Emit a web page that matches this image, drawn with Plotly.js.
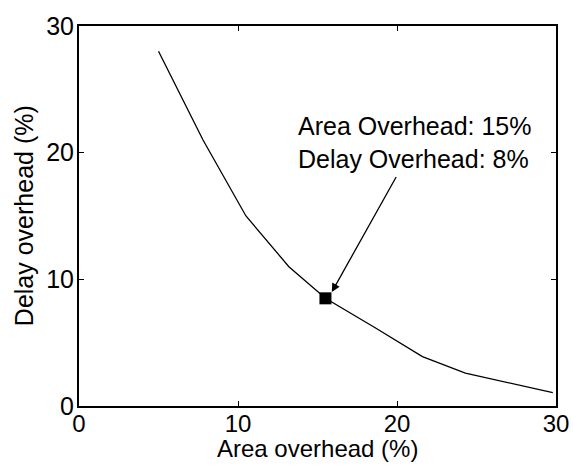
<!DOCTYPE html>
<html><head><meta charset="utf-8">
<script src="https://cdn.plot.ly/plotly-3.0.1.min.js"></script>
<style>body{margin:0;background:#fff}</style>
</head><body>
<div id="chart" style="width:573px;height:465px"></div>
<script>
const areaOverhead = [5, 7.8, 10.5, 13.2, 15.5, 18.6, 21.6, 24.3, 29.8];
const delayOverhead = [28, 21, 15, 11, 8.5, 6.2, 3.9, 2.6, 1.05];
const markX = [15.5];
const markY = [8.5];
const tickVals = [0, 10, 20, 30];
const noteLines = ["Area Overhead: 15%", "Delay Overhead: 8%"];
const xTitle = "Area overhead (%)";
const yTitle = "Delay overhead (%)";

const font = {family: "Liberation Sans, Arial, sans-serif", size: 25, color: "#000"};
const smallFont = {family: "Liberation Sans, Arial, sans-serif", size: 24, color: "#000"};
const axisCommon = {
  range: [0, 30], tickvals: tickVals, ticks: "inside", ticklen: 5, tickwidth: 1,
  tickcolor: "#000", showline: true, linewidth: 2, linecolor: "#000", mirror: "ticks",
  showgrid: false, zeroline: false, tickfont: font
};
Plotly.newPlot("chart", [
  {x: areaOverhead, y: delayOverhead, mode: "lines", line: {color: "#000", width: 1.3}, hoverinfo: "none"},
  {x: markX, y: markY, mode: "markers", marker: {symbol: "square", size: 12, color: "#000"}, hoverinfo: "none"}
], {
  width: 573, height: 465, showlegend: false,
  margin: {l: 79, r: 17, t: 26, b: 59},
  paper_bgcolor: "#fff", plot_bgcolor: "#fff", font: font,
  xaxis: Object.assign({}, axisCommon, {tickfont: smallFont, ticklabelstandoff: -5}),
  yaxis: Object.assign({}, axisCommon, {ticklabelstandoff: -2}),
  annotations: [
    {x: 0.5, y: -0.113, xref: "paper", yref: "paper", text: xTitle, showarrow: false,
     xanchor: "center", yanchor: "middle", font: smallFont, borderpad: 0},
    {x: -0.115, y: 0.5, xref: "paper", yref: "paper", text: yTitle, showarrow: false, textangle: -90,
     xanchor: "center", yanchor: "middle", font: font, borderpad: 0},
    {x: 13.7, y: 20.8, xref: "x", yref: "y", text: noteLines.join("<br>"), showarrow: false,
     xanchor: "left", yanchor: "middle", align: "left", font: font, borderpad: 0},
    {x: 15.9, y: 9.0, xref: "x", yref: "y", ax: 20.0, ay: 18.2, axref: "x", ayref: "y",
     text: "", showarrow: true, arrowhead: 2, arrowsize: 1.3, arrowwidth: 1.3, arrowcolor: "#000"}
  ]
}, {staticPlot: true});
</script>
</body></html>
